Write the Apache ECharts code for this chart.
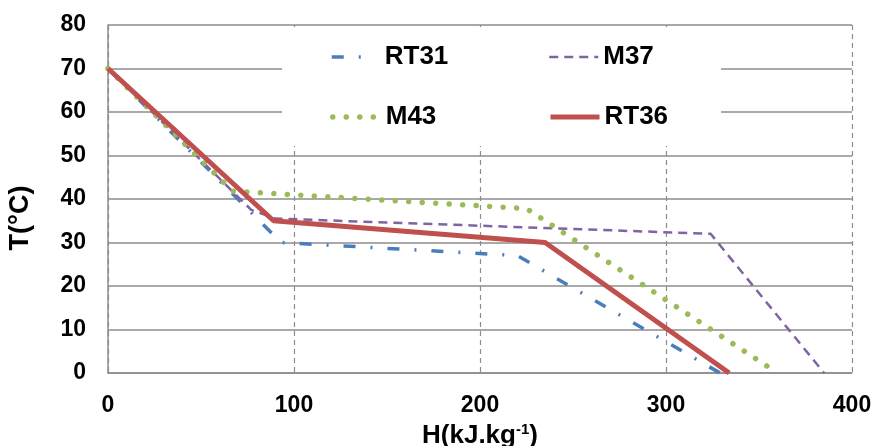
<!DOCTYPE html>
<html>
<head>
<meta charset="utf-8">
<script src="https://cdn.jsdelivr.net/npm/echarts@6/dist/echarts.min.js"></script>
<style>
html,body{margin:0;padding:0;background:#fff;}
#chart{width:875px;height:446px;}
</style>
</head>
<body>
<div id="chart"></div>
<script>
// Enthalpy H (kJ/kg) and temperature T (°C) for each material
const rt31H = [0, 93, 220, 329];
const rt31T = [70, 30, 27, 0];
const m37H = [0, 77, 90, 324, 385];
const m37T = [70, 37.5, 35.5, 32, 0];
const m43H = [0, 67, 225, 360];
const m43T = [70, 41.8, 37.8, 0];
const rt36H = [0, 89, 235, 334];
const rt36T = [70, 35, 30, 0];

const xTicks = [0, 100, 200, 300, 400];
const yTicks = [0, 10, 20, 30, 40, 50, 60, 70, 80];
const seriesNames = ['RT31', 'M37', 'M43', 'RT36'];

function pairs(h, t) { return h.map((v, i) => [v, t[i]]); }

const FONT = '"Liberation Sans", Arial, sans-serif';
const gridColor = '#8c8c8c';

const styles = [
  {color: '#4a7ebb', width: 3.5, type: [12, 15, 2, 15], cap: 'butt'},
  {color: '#8064a2', width: 2.5, type: [9, 6], cap: 'butt'},
  {color: '#9bbb59', width: 5.5, type: [0.01, 13.5], cap: 'round'},
  {color: '#c0504d', width: 5, type: 'solid', cap: 'butt'}
];

const chart = echarts.init(document.getElementById('chart'), null, {renderer: 'canvas'});

function legendAt(i, left, top, w, padLeft) {
  const s = styles[i];
  return {
    data: [seriesNames[i]], left: left, top: top, padding: 0,
    itemWidth: w, itemHeight: 14, selectedMode: false,
    itemStyle: {opacity: 0},
    lineStyle: {width: s.width, type: s.type, cap: s.cap, color: s.color},
    textStyle: {fontFamily: FONT, fontWeight: 'bold', fontSize: 26, color: '#000', padding: [0, 0, 0, padLeft]}
  };
}

function lineSeries(i, h, t) {
  const s = styles[i];
  return {
    name: seriesNames[i], type: 'line', symbol: 'none', z: 2 + i,
    data: pairs(h, t),
    lineStyle: {color: s.color, width: s.width, type: s.type, cap: s.cap},
    itemStyle: {color: s.color}
  };
}

chart.setOption({
  animation: false,
  backgroundColor: '#fff',
  grid: {left: 108, right: 23, top: 25, bottom: 73, containLabel: false, outerBoundsMode: 'none'},
  graphic: [{
    type: 'rect', z: 1,
    shape: {x: 282, y: 27, width: 439, height: 119},
    style: {fill: '#fff'}
  }],
  legend: [
    legendAt(0, 330, 44, 32, 16),
    legendAt(1, 548, 44, 49, 0),
    legendAt(2, 330, 104, 47, 1),
    legendAt(3, 548, 104, 49, 0)
  ],
  xAxis: {
    type: 'value', min: xTicks[0], max: xTicks[xTicks.length - 1], interval: 100,
    name: '{a|H(kJ.kg}{b|-1}{a|)}',
    nameLocation: 'middle', nameGap: 37,
    nameTextStyle: {
      rich: {
        a: {fontFamily: FONT, fontWeight: 'bold', fontSize: 26, color: '#000', lineHeight: 28},
        b: {fontFamily: FONT, fontWeight: 'bold', fontSize: 15, color: '#000', verticalAlign: 'top', lineHeight: 28, padding: [0, 0, 6, 0]}
      }
    },
    axisLine: {show: true, lineStyle: {color: gridColor, width: 1.5}},
    axisTick: {show: false},
    axisLabel: {fontFamily: FONT, fontWeight: 'bold', fontSize: 23, color: '#000', margin: 21},
    splitLine: {show: true, lineStyle: {color: gridColor, width: 1.2, type: [5, 4]}}
  },
  yAxis: {
    type: 'value', min: yTicks[0], max: yTicks[yTicks.length - 1], interval: 10,
    name: 'T(°C)', nameLocation: 'middle', nameGap: 74, nameRotate: 90,
    nameTextStyle: {fontFamily: FONT, fontWeight: 'bold', fontSize: 27, color: '#000', padding: [0, 38, 0, 0]},
    axisLine: {show: true, lineStyle: {color: gridColor, width: 1.5}},
    axisTick: {show: false},
    axisLabel: {fontFamily: FONT, fontWeight: 'bold', fontSize: 23, color: '#000', margin: 22},
    splitLine: {show: true, lineStyle: {color: gridColor, width: 1.5}}
  },
  series: [
    lineSeries(0, rt31H, rt31T),
    lineSeries(1, m37H, m37T),
    lineSeries(2, m43H, m43T),
    lineSeries(3, rt36H, rt36T)
  ]
});
</script>
</body>
</html>
